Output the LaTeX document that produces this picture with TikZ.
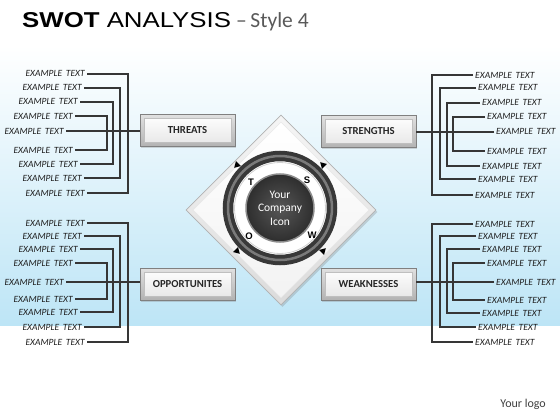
\documentclass[tikz,border=0pt]{standalone}
\usepackage{fontspec}
\setmainfont{Liberation Sans}
\newfontfamily\carlito{Carlito}
\usetikzlibrary{shapes.geometric,shadows}
\definecolor{bgblue}{HTML}{BDE5F6}
\definecolor{bgtop}{HTML}{FFFFFF}
\definecolor{linec}{HTML}{363636}
\definecolor{ringc}{HTML}{383838}
\tikzset{
  ex/.style={font=\carlito\itshape\fontsize{9.5}{9.5}\selectfont, text=black!88, inner sep=2pt, text height=6pt, text depth=0pt},
  conn/.style={draw=linec, line width=1.7pt},
  sbox/.style={rectangle, draw=black!50, line width=0.8pt, minimum width=95pt, minimum height=32pt,
    font=\carlito\bfseries\fontsize{10.7}{12}\selectfont, text=black!85,
    top color=black!12, bottom color=black!30,
    drop shadow={shadow xshift=1.2pt, shadow yshift=-1.5pt, opacity=.3},
    path picture={\shade[top color=white, bottom color=black!10, draw=black!25, line width=0.5pt]
      ([shift={(4pt,-4pt)}]path picture bounding box.north west) rectangle
      ([shift={(-4pt,4pt)}]path picture bounding box.south east);}},
  ltr/.style={font=\bfseries\fontsize{9.5}{9.5}\selectfont, text=black, inner sep=0pt},
  tri/.style={isosceles triangle, isosceles triangle apex angle=60, fill=black, inner sep=0pt, minimum height=6pt, minimum width=6pt}
}
\begin{document}
\begin{tikzpicture}[x=1pt,y=-1pt]
\useasboundingbox (0,0) rectangle (560,420);
\fill[white] (0,0) rectangle (560,420);
\shade[top color=bgtop, bottom color=bgblue] (0,45) rectangle (560,325);
% title
\node (title) [anchor=base west, inner sep=0pt] at (22,28)
  {\scalebox{1.2}[1]{\fontsize{21.5}{21.5}\selectfont\textbf{SWOT} ANALYSIS}};
\node (subtitle) [anchor=base west, inner sep=0pt, text=black!65] at (236,28)
  {\carlito\fontsize{21.5}{21.5}\selectfont \textendash\,Style 4};
% diamond
\node (diam) [diamond, aspect=1, minimum width=190pt, minimum height=190pt, inner sep=0pt,
  top color=black!4, bottom color=black!14, draw=black!30, line width=0.6pt,
  drop shadow={shadow xshift=1.5pt, shadow yshift=-2pt, opacity=.3}] at (281,210) {};
\node (diamin) [diamond, aspect=1, minimum width=176pt, minimum height=176pt, inner sep=0pt,
  top color=white, bottom color=black!5, draw=black!10] at (281,210) {};
% ring
\node (ring) [circle, minimum size=104pt, inner sep=0pt, draw=ringc, line width=10.5pt, fill=white] at (280,208) {};
\draw[black!52, line width=2.5pt] (ring.center) circle[radius=52pt];
\draw[black!18, line width=0.8pt] (ring.center) circle[radius=45.5pt];
\node (icon) [circle, minimum size=68pt, inner sep=0pt, inner color=black!66, outer color=black!82,
  draw=black!45, line width=1.5pt, text=white!88, align=center,
  font=\carlito\fontsize{11.5}{13.5}\selectfont] at (280,208) {Your\\Company\\Icon};
\node (lT) [ltr] at (251,182) {T};
\node (lS) [ltr] at (307,180) {S};
\node (lO) [ltr] at (249,236) {O};
\node (lW) [ltr] at (312,235) {W};
\node (a1) [tri, rotate=225] at (237,165) {};
\node (a2) [tri, rotate=135] at (323,165) {};
\node (a3) [tri, rotate=315] at (237,251) {};
\node (a4) [tri, rotate=45] at (323,251) {};
% boxes
\node (threats) [sbox] at (187.5,130.5) {THREATS};
\node (strengths) [sbox] at (368.5,131.5) {STRENGTHS};
\node (opps) [sbox] at (187.5,284) {OPPORTUNITES};
\node (weak) [sbox] at (368.5,284) {WEAKNESSES};
% bar coordinates
\coordinate (lb1) at (128,0); \coordinate (lb2) at (120,0);
\coordinate (lb3) at (113,0); \coordinate (lb4) at (107,0);
\coordinate (rb1) at (432,0); \coordinate (rb2) at (440,0);
\coordinate (rb3) at (447,0); \coordinate (rb4) at (453,0);
% text rows
\foreach \i/\x/\y in {1/87/74,2/84/88,3/80/102,4/75/116,5/66/131,6/75/150,7/80/164,8/84/178,9/87/193}
  \node (tl\i) [ex, anchor=east] at (\x,\y) {EXAMPLE\, TEXT};
\foreach \i/\x/\y in {1/87/223,2/84/236,3/80/249,4/75/263,5/66/282,6/75/299,7/80/312,8/84/327,9/87/342}
  \node (bl\i) [ex, anchor=east] at (\x,\y) {EXAMPLE\, TEXT};
\foreach \i/\x/\y in {1/473/75,2/476/88,3/480/103,4/485/117,5/494/132,6/485/151,7/480/166,8/476/179,9/473/195}
  \node (tr\i) [ex, anchor=west] at (\x,\y) {EXAMPLE\, TEXT};
\foreach \i/\x/\y in {1/473/224,2/476/236,3/480/249,4/485/263,5/494/282,6/485/300,7/480/313,8/476/327,9/473/342}
  \node (br\i) [ex, anchor=west] at (\x,\y) {EXAMPLE\, TEXT};
% connectors
\foreach \a/\b/\k in {1/9/1,2/8/2,3/7/3,4/6/4}{
  \draw[conn] (tl\a.east) -- (tl\a.east -| lb\k) -- (tl\b.east -| lb\k) -- (tl\b.east);
  \draw[conn] (bl\a.east) -- (bl\a.east -| lb\k) -- (bl\b.east -| lb\k) -- (bl\b.east);
  \draw[conn] (tr\a.west) -- (tr\a.west -| rb\k) -- (tr\b.west -| rb\k) -- (tr\b.west);
  \draw[conn] (br\a.west) -- (br\a.west -| rb\k) -- (br\b.west -| rb\k) -- (br\b.west);
}
\draw[conn] (tl5.east) -- (tl5.east -| threats.west);
\draw[conn] (bl5.east) -- (bl5.east -| opps.west);
\draw[conn] (tr5.west) -- (tr5.west -| strengths.east);
\draw[conn] (br5.west) -- (br5.west -| weak.east);
% logo
\node (logo) [anchor=base east, inner sep=0pt, text=black!75] at (546,407) {\carlito\fontsize{12}{12}\selectfont Your logo};
\end{tikzpicture}
\end{document}
